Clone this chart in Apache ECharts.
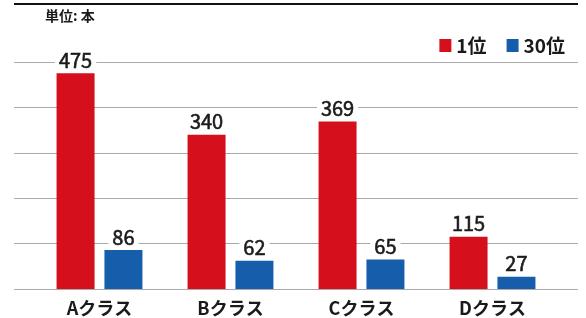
<!DOCTYPE html>
<html>
<head>
<meta charset="utf-8">
<script src="https://cdn.jsdelivr.net/npm/echarts@6/dist/echarts.min.js"></script>
<style>
html, body { margin: 0; padding: 0; background: #fff; }
#chart { width: 586px; height: 318px; }
</style>
</head>
<body>
<div id="chart"></div>
<script>
var categories = ['Aクラス', 'Bクラス', 'Cクラス', 'Dクラス'];
var first = [475, 340, 369, 115];
var thirtieth = [86, 62, 65, 27];
var seriesNames = ['1位', '30位'];
var unitText = '単位: 本';

var FONT = '"Noto Sans CJK JP", "Noto Sans", sans-serif';

var chart = echarts.init(document.getElementById('chart'));

function valueLabel() {
	return {
		show: true,
		position: 'top',
		distance: 3,
		color: '#1a1a1a',
		fontFamily: FONT,
		fontSize: 20,
		fontWeight: 'normal',
		// thin outline to get a medium-weight look
		textBorderColor: '#1a1a1a',
		textBorderWidth: 0.6,
		backgroundColor: '#fff',
		padding: [0, 4, 0, 4],
		lineHeight: 20
	};
}

var option = {
	animation: false,
	textStyle: { fontFamily: FONT },
	grid: [
		// wide grid only for the horizontal rules
		{ left: 14, right: 8, top: 62, bottom: 29 },
		// narrower grid holding the bars
		{ left: 34, width: 524, top: 62, bottom: 29 }
	],
	legend: {
		data: seriesNames,
		right: 16,
		top: 31,
		itemWidth: 12,
		itemHeight: 13,
		itemGap: 20,
		icon: 'rect',
		textStyle: { fontFamily: FONT, fontSize: 19, fontWeight: 'bold', color: '#1a1a1a' }
	},
	graphic: [
		{
			type: 'line',
			shape: { x1: 14, y1: 4, x2: 578, y2: 4 },
			style: { stroke: '#111', lineWidth: 2 }
		},
		{
			type: 'text',
			left: 45,
			top: 9,
			style: { text: unitText, font: 'bold 14px ' + FONT, fill: '#1a1a1a' }
		}
	],
	xAxis: [
		{ gridIndex: 0, type: 'value', min: 0, max: 1, show: false },
		{
			gridIndex: 1,
			type: 'category',
			data: categories,
			axisLine: { show: false },
			axisTick: { show: false },
			axisLabel: {
				margin: 10,
				color: '#1a1a1a',
				fontFamily: FONT,
				fontSize: 18,
				fontWeight: 'bold'
			}
		}
	],
	yAxis: [
		{
			gridIndex: 0,
			type: 'value',
			min: 0,
			max: 500,
			interval: 100,
			axisLine: { show: false },
			axisTick: { show: false },
			axisLabel: { show: false },
			splitLine: { lineStyle: { color: '#aaaaaa', width: 1 } }
		},
		{
			gridIndex: 1,
			type: 'value',
			min: 0,
			max: 500,
			show: false,
			splitLine: { show: false }
		}
	],
	series: [
		{
			name: seriesNames[0],
			type: 'bar',
			xAxisIndex: 1,
			yAxisIndex: 1,
			data: first,
			barWidth: 38,
			barGap: '26%',
			itemStyle: { color: '#d50f1c' },
			label: valueLabel()
		},
		{
			name: seriesNames[1],
			type: 'bar',
			xAxisIndex: 1,
			yAxisIndex: 1,
			data: thirtieth,
			barWidth: 38,
			itemStyle: { color: '#165dab' },
			label: valueLabel()
		}
	]
};

chart.setOption(option);
</script>
</body>
</html>
